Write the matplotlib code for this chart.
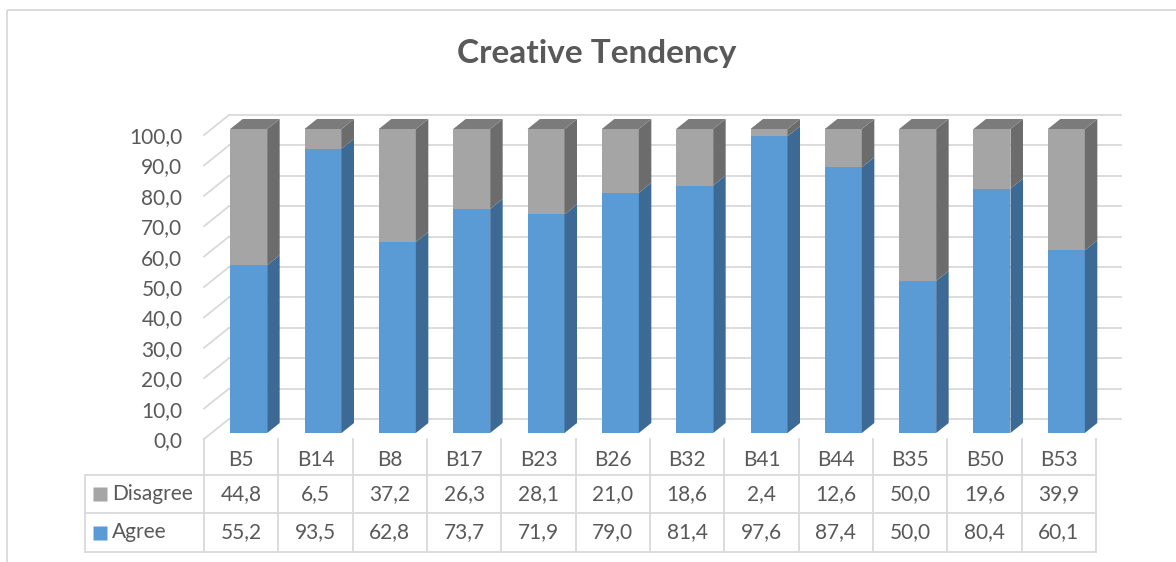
import matplotlib
matplotlib.use("Agg")
import matplotlib.pyplot as plt
from matplotlib.patches import Polygon, Rectangle
import numpy as np

categories = ["B5", "B14", "B8", "B17", "B23", "B26", "B32", "B41", "B44", "B35", "B50", "B53"]
agree = [55.2, 93.5, 62.8, 73.7, 71.9, 79.0, 81.4, 97.6, 87.4, 50.0, 80.4, 60.1]
disagree = [44.8, 6.5, 37.2, 26.3, 28.1, 21.0, 18.6, 2.4, 12.6, 50.0, 19.6, 39.9]
y_ticks = np.arange(0, 101, 10)
title = "Creative Tendency"

W, H = 1176, 562
TXT = "#595959"
GRID = "#d9d9d9"
BLUE, BLUE_SIDE = "#5b9bd5", "#3d6a94"
GRAY, GRAY_SIDE, GRAY_TOP = "#a5a5a5", "#6c6c6c", "#7b7b7b"
FS = 15

plt.rcParams["font.family"] = ["Lato", "DejaVu Sans"]

# front plane of the pseudo-3D box, in pixels
PX_L, PX_R, PX_T, PX_B = 204, 1096, 135, 439
TAB_L, ROW1, ROW2, TAB_B = 85, 475, 513, 552
n = len(categories)
ux = (PX_R - PX_L) / n      # px per category
uy = (PX_B - PX_T) / 100.0  # px per value unit


def off(dx_px, dy_px):
    """pixel offset (right, up) -> data offset"""
    return dx_px / ux, dy_px / uy


wx, wy = off(25, 20)      # back wall
fx, fy = off(7.5, 6)      # bar front face behind front plane
dx, dy = off(12.5, 10)    # bar depth
bar_w = 37 / ux

fig = plt.figure(figsize=(W / 100, H / 100), dpi=100)

# overlay in pixel coords for title, border and the data table
lay = fig.add_axes([0, 0, 1, 1])
lay.set_xlim(0, W)
lay.set_ylim(H, 0)
lay.axis("off")
lay.add_patch(Rectangle((7, 10), 1400, 800, fill=False, ec=GRID, lw=1.3))
lay.text(597, 63, title, ha="center", va="baseline", fontsize=24,
         fontweight="bold", color=TXT)

ax = fig.add_axes([PX_L / W, 1 - PX_B / H, (PX_R - PX_L) / W, (PX_B - PX_T) / H])
ax.set_xlim(-0.5, n - 0.5)
ax.set_ylim(0, 100)
ax.patch.set_visible(False)
for s in ax.spines.values():
    s.set_visible(False)
ax.set_xticks([])
ax.set_yticks(y_ticks)
ax.set_yticklabels([f"{v:.1f}".replace(".", ",") for v in y_ticks])
ax.tick_params(axis="y", length=0, pad=15.5, labelsize=FS, labelcolor=TXT)

# walls
for v in y_ticks:
    ax.plot([-0.5, -0.5 + wx], [v, v + wy], color=GRID, lw=1.3,
            clip_on=False, zorder=1)
    ax.plot([-0.5 + wx, n - 0.5 + wx], [v + wy, v + wy], color=GRID, lw=1.3,
            clip_on=False, zorder=1)

# bars
x = np.arange(n) + fx
agree_a = np.array(agree)
dis_a = np.array(disagree)
ax.bar(x, agree_a, width=bar_w, bottom=fy, color=BLUE, lw=0, zorder=3, clip_on=False)
ax.bar(x, dis_a, width=bar_w, bottom=fy + agree_a, color=GRAY, lw=0, zorder=3,
       clip_on=False)
for i in range(n):
    xl, xr = x[i] - bar_w / 2, x[i] + bar_w / 2
    y0, y1, y2 = fy, fy + agree_a[i], fy + agree_a[i] + dis_a[i]
    faces = [
        ([(xr, y0), (xr + dx, y0 + dy), (xr + dx, y1 + dy), (xr, y1)], BLUE_SIDE),
        ([(xr, y1), (xr + dx, y1 + dy), (xr + dx, y2 + dy), (xr, y2)], GRAY_SIDE),
        ([(xl, y2), (xr, y2), (xr + dx, y2 + dy), (xl + dx, y2 + dy)], GRAY_TOP),
    ]
    for pts, c in faces:
        ax.add_patch(Polygon(pts, closed=True, fc=c, ec="none", zorder=3,
                             clip_on=False))

# data table
for k in range(n + 1):
    xk = PX_L + k * ux
    lay.plot([xk, xk], [PX_B, TAB_B], color=GRID, lw=1.3)
lay.plot([TAB_L, TAB_L], [ROW1, TAB_B], color=GRID, lw=1.3)
for yr in (ROW1, ROW2, TAB_B):
    lay.plot([TAB_L, PX_R], [yr, yr], color=GRID, lw=1.3)

rows = [("Disagree", disagree, GRAY), ("Agree", agree, BLUE)]
row_mid = [(ROW1 + ROW2) / 2, (ROW2 + TAB_B) / 2]
for i, cat in enumerate(categories):
    xc = PX_L + (i + 0.5) * ux
    lay.text(xc, (PX_B + ROW1) / 2 + 3, cat, ha="center", va="center",
             fontsize=FS, color=TXT)
    for (name, vals, c), ym in zip(rows, row_mid):
        lay.text(xc, ym, f"{vals[i]:.1f}".replace(".", ","), ha="center",
                 va="center", fontsize=FS, color=TXT)
for (name, vals, c), ym in zip(rows, row_mid):
    lay.plot(100, ym, marker="s", ms=9.5, color=c, mec="none")
    lay.text(112, ym, name, ha="left", va="center", fontsize=FS, color=TXT)

fig.savefig("out.png", dpi=100)
